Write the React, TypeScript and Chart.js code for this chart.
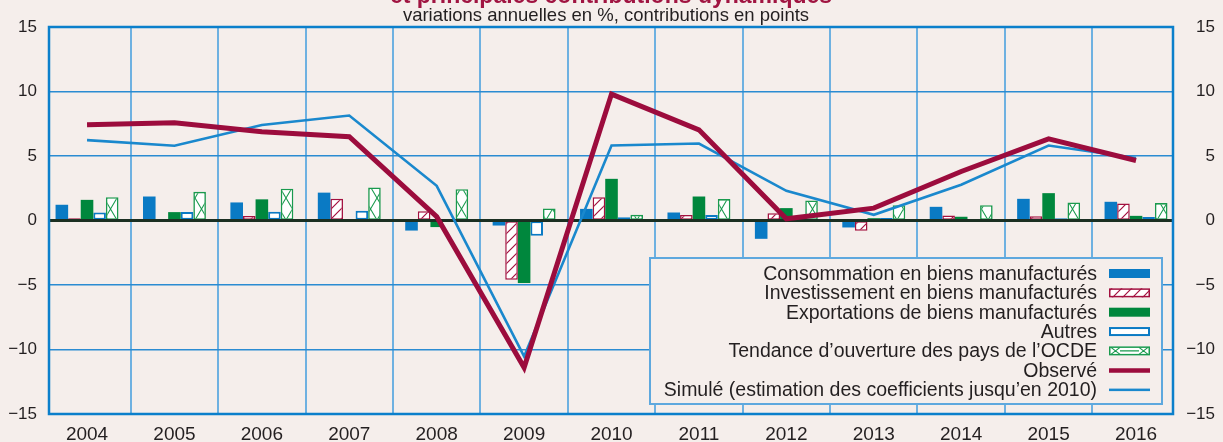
import React, { useEffect, useRef } from "react";
import { Chart, registerables } from "chart.js";

Chart.register(...registerables);

const years = ["2004", "2005", "2006", "2007", "2008", "2009", "2010", "2011", "2012", "2013", "2014", "2015", "2016"];
const consommation = [1.22, 1.86, 1.4, 2.16, -0.78, -0.39, 0.9, 0.62, -1.42, -0.54, 1.06, 1.68, 1.45];
const investissement = [0.18, 0.05, 0.34, 1.68, 0.72, -4.6, 1.81, 0.42, 0.57, -0.8, 0.39, 0.33, 1.32];
const exportations = [1.6, 0.65, 1.64, 0.1, -0.51, -4.85, 3.23, 1.86, 0.96, 0.18, 0.29, 2.12, 0.36];
const autres = [0.62, 0.65, 0.67, 0.75, -0.05, -1.19, 0.26, 0.42, 0.05, 0.2, -0.08, 0.18, 0.28];
const tendance = [1.81, 2.22, 2.46, 2.56, 2.43, 0.93, 0.44, 1.66, 1.55, 1.19, 1.19, 1.4, 1.35];
const observe = [7.42, 7.57, 6.88, 6.49, 0.3, -11.4, 9.8, 7.03, 0.13, 0.96, 3.8, 6.33, 4.65];
const simule = [6.23, 5.79, 7.4, 8.14, 2.69, -10.54, 5.81, 5.97, 2.3, 0.44, 2.77, 5.81, 4.84];
const yTicks = [-15, -10, -5, 0, 5, 10, 15];

const titleText = "et principales contributions dynamiques";
const subtitleText = "variations annuelles en %, contributions en points";
const legendLabels = [
  "Consommation en biens manufacturés",
  "Investissement en biens manufacturés",
  "Exportations de biens manufacturés",
  "Autres",
  "Tendance d’ouverture des pays de l’OCDE",
  "Observé",
  "Simulé (estimation des coefficients jusqu’en 2010)",
];

const BG = "#f5eeeb";
const BLUE = "#0a7ac4";
const CRIMSON = "#a3103f";
const LINE_RED = "#9c0c3d";
const GREEN = "#00873d";
const LINE_BLUE = "#1a88cd";
const TEXT = "#231f20";
const FONT = "'Liberation Sans', Arial, Helvetica, sans-serif";

function hatchPattern(): CanvasPattern | string {
  const c = document.createElement("canvas");
  c.width = 10;
  c.height = 10;
  const g = c.getContext("2d")!;
  g.fillStyle = "#ffffff";
  g.fillRect(0, 0, 10, 10);
  g.strokeStyle = CRIMSON;
  g.lineWidth = 1.2;
  g.beginPath();
  g.moveTo(0, 10);
  g.lineTo(10, 0);
  g.moveTo(-1, 1);
  g.lineTo(1, -1);
  g.moveTo(9, 11);
  g.lineTo(11, 9);
  g.stroke();
  return g.createPattern(c, "repeat") || "#ffffff";
}

function crossPattern(): CanvasPattern | string {
  const w = 13;
  const h = 22;
  const c = document.createElement("canvas");
  c.width = w;
  c.height = h;
  const g = c.getContext("2d")!;
  g.fillStyle = "#ffffff";
  g.fillRect(0, 0, w, h);
  g.strokeStyle = "#1a9a4e";
  g.lineWidth = 1.1;
  g.beginPath();
  g.moveTo(0, 0);
  g.lineTo(w, h);
  g.moveTo(w, 0);
  g.lineTo(0, h);
  g.stroke();
  return g.createPattern(c, "repeat") || "#ffffff";
}

export default function App() {
  const ref = useRef<HTMLCanvasElement | null>(null);

  useEffect(() => {
    const canvas = ref.current;
    if (!canvas) return;
    const hatch = hatchPattern();
    const cross = crossPattern();

    const pts = (arr: number[]) => arr.map((v, i) => ({ x: i, y: v }));

    const decor = {
      id: "decor",
      beforeDraw(chart: any) {
        const ctx = chart.ctx;
        ctx.save();
        ctx.fillStyle = BG;
        ctx.fillRect(0, 0, chart.width, chart.height);
        ctx.fillStyle = "#a01441";
        ctx.font = `bold 23px ${FONT}`;
        ctx.textAlign = "center";
        ctx.textBaseline = "alphabetic";
        ctx.fillText(titleText, 611, 3);
        ctx.fillStyle = TEXT;
        ctx.font = `18.5px ${FONT}`;
        ctx.fillText(subtitleText, 606, 21);
        ctx.restore();
      },
      beforeDatasetDraw(chart: any, args: any) {
        if (args.index !== 1) return;
        const ctx = chart.ctx;
        const a = chart.chartArea;
        const y = chart.scales.y.getPixelForValue(0);
        ctx.save();
        ctx.strokeStyle = "#1b2f22";
        ctx.lineWidth = 3;
        ctx.beginPath();
        ctx.moveTo(a.left, y);
        ctx.lineTo(a.right, y);
        ctx.stroke();
        ctx.restore();
      },
      afterDatasetsDraw(chart: any) {
        const ctx = chart.ctx;
        const a = chart.chartArea;
        ctx.save();
        ctx.strokeStyle = "#0b7fcb";
        ctx.lineWidth = 2.5;
        ctx.strokeRect(a.left, a.top, a.right - a.left, a.bottom - a.top);
        const lx = 650, ly = 258, lw = 512, lh = 146;
        ctx.fillStyle = BG;
        ctx.fillRect(lx, ly, lw, lh);
        ctx.strokeStyle = "#5ea8de";
        ctx.lineWidth = 2;
        ctx.strokeRect(lx, ly, lw, lh);
        ctx.font = `19.5px ${FONT}`;
        ctx.textAlign = "right";
        ctx.textBaseline = "middle";
        const sx = 1109, sw = 41, sh = 9;
        legendLabels.forEach((label, i) => {
          const cy = 273.5 + i * 19.35;
          ctx.fillStyle = TEXT;
          ctx.fillText(label, 1097, cy + 1);
          const top = cy - sh / 2;
          if (i === 0) {
            ctx.fillStyle = BLUE;
            ctx.fillRect(sx, top, sw, sh);
          } else if (i === 1) {
            ctx.fillStyle = hatch;
            ctx.fillRect(sx, top, sw, sh);
            ctx.strokeStyle = CRIMSON;
            ctx.lineWidth = 1.5;
            ctx.strokeRect(sx + 0.75, top + 0.75, sw - 1.5, sh - 1.5);
          } else if (i === 2) {
            ctx.fillStyle = GREEN;
            ctx.fillRect(sx, top, sw, sh);
          } else if (i === 3) {
            ctx.fillStyle = "#ffffff";
            ctx.fillRect(sx, top, sw, sh);
            ctx.strokeStyle = BLUE;
            ctx.lineWidth = 2;
            ctx.strokeRect(sx + 1, top + 1, sw - 2, sh - 2);
          } else if (i === 4) {
            ctx.fillStyle = "#ffffff";
            ctx.fillRect(sx, top, sw, sh);
            ctx.strokeStyle = "#1a9a4e";
            ctx.lineWidth = 1.2;
            ctx.beginPath();
            ctx.moveTo(sx + 2, top + 1);
            ctx.lineTo(sx + 11, top + sh - 1);
            ctx.moveTo(sx + 11, top + 1);
            ctx.lineTo(sx + 2, top + sh - 1);
            ctx.moveTo(sx + sw - 11, top + 1);
            ctx.lineTo(sx + sw - 2, top + sh - 1);
            ctx.moveTo(sx + sw - 2, top + 1);
            ctx.lineTo(sx + sw - 11, top + sh - 1);
            ctx.moveTo(sx + 11, cy);
            ctx.lineTo(sx + sw - 11, cy);
            ctx.stroke();
            ctx.lineWidth = 1.5;
            ctx.strokeRect(sx + 0.75, top + 0.75, sw - 1.5, sh - 1.5);
          } else if (i === 5) {
            ctx.fillStyle = LINE_RED;
            ctx.fillRect(sx, cy - 2, sw, 4.5);
          } else {
            ctx.fillStyle = LINE_BLUE;
            ctx.fillRect(sx, cy - 1, sw, 2.5);
          }
        });
        ctx.restore();
      },
    };

    const barBase = {
      type: "bar" as const,
      yAxisID: "y",
      borderSkipped: false,
      categoryPercentage: 0.72,
      barPercentage: 1.0,
    };

    const chart = new Chart(canvas, {
      type: "bar",
      data: {
        datasets: [
          {
            type: "line",
            label: legendLabels[5],
            data: pts(observe),
            borderColor: LINE_RED,
            borderWidth: 5,
            pointRadius: 0,
            tension: 0,
            fill: false,
            yAxisID: "y",
          } as any,
          {
            type: "line",
            label: legendLabels[6],
            data: pts(simule),
            borderColor: LINE_BLUE,
            borderWidth: 2.6,
            pointRadius: 0,
            tension: 0,
            fill: false,
            yAxisID: "y",
          } as any,
          { ...barBase, label: legendLabels[0], data: pts(consommation), backgroundColor: BLUE, borderWidth: 0 } as any,
          { ...barBase, label: legendLabels[1], data: pts(investissement), backgroundColor: hatch, borderColor: CRIMSON, borderWidth: 1.5 } as any,
          { ...barBase, label: legendLabels[2], data: pts(exportations), backgroundColor: GREEN, borderWidth: 0 } as any,
          { ...barBase, label: legendLabels[3], data: pts(autres), backgroundColor: "#ffffff", borderColor: BLUE, borderWidth: 2 } as any,
          { ...barBase, label: legendLabels[4], data: pts(tendance), backgroundColor: cross, borderColor: "#1a9a4e", borderWidth: 1.6 } as any,
        ],
      },
      options: {
        responsive: false,
        animation: false,
        devicePixelRatio: 1,
        layout: { padding: { top: 27, left: 0, right: 8, bottom: 0 } },
        plugins: { legend: { display: false }, tooltip: { enabled: false }, title: { display: false } },
        scales: {
          x: {
            type: "linear",
            offset: false,
            min: -0.435,
            max: 12.423,
            afterBuildTicks: (s: any) => {
              s.ticks = years.map((_, i) => ({ value: i }));
            },
            afterFit: (s: any) => {
              s.height = 28;
            },
            ticks: {
              autoSkip: false,
              maxRotation: 0,
              padding: 9,
              color: TEXT,
              font: { family: FONT, size: 19 },
              callback: (v: any) => years[Math.round(Number(v))] ?? "",
            },
            grid: { offset: true, color: "#6eb1e1", lineWidth: 2, drawTicks: false },
            border: { display: false },
          },
          y: {
            type: "linear",
            position: "left",
            min: -15,
            max: 15,
            afterBuildTicks: (s: any) => {
              s.ticks = yTicks.map((v) => ({ value: v }));
            },
            afterFit: (s: any) => {
              s.width = 49;
            },
            ticks: {
              padding: 12,
              color: TEXT,
              font: { family: FONT, size: 17 },
              callback: (v: any) => (Number(v) < 0 ? "−" + Math.abs(Number(v)) : String(v)),
            },
            grid: {
              drawTicks: false,
              lineWidth: 1.5,
              color: (c: any) => {
                const v = c.tick ? c.tick.value : 0;
                return v === 0 || Math.abs(v) === 15 ? "rgba(0,0,0,0)" : "#2a8bd2";
              },
            },
            border: { display: false },
          },
          y2: {
            type: "linear",
            position: "right",
            min: -15,
            max: 15,
            afterBuildTicks: (s: any) => {
              s.ticks = yTicks.map((v) => ({ value: v }));
            },
            afterFit: (s: any) => {
              s.width = 42;
            },
            ticks: {
              padding: 5,
              crossAlign: "far",
              color: TEXT,
              font: { family: FONT, size: 17 },
              callback: (v: any) => (Number(v) < 0 ? "−" + Math.abs(Number(v)) : String(v)),
            },
            grid: { display: false, drawTicks: false },
            border: { display: false },
          },
        },
      } as any,
      plugins: [decor],
    });

    return () => chart.destroy();
  }, []);

  return (
    <div style={{ position: "fixed", left: 0, top: 0, width: 1223, height: 442, background: BG }}>
      <canvas ref={ref} width={1223} height={442} style={{ display: "block", width: 1223, height: 442 }} />
    </div>
  );
}
